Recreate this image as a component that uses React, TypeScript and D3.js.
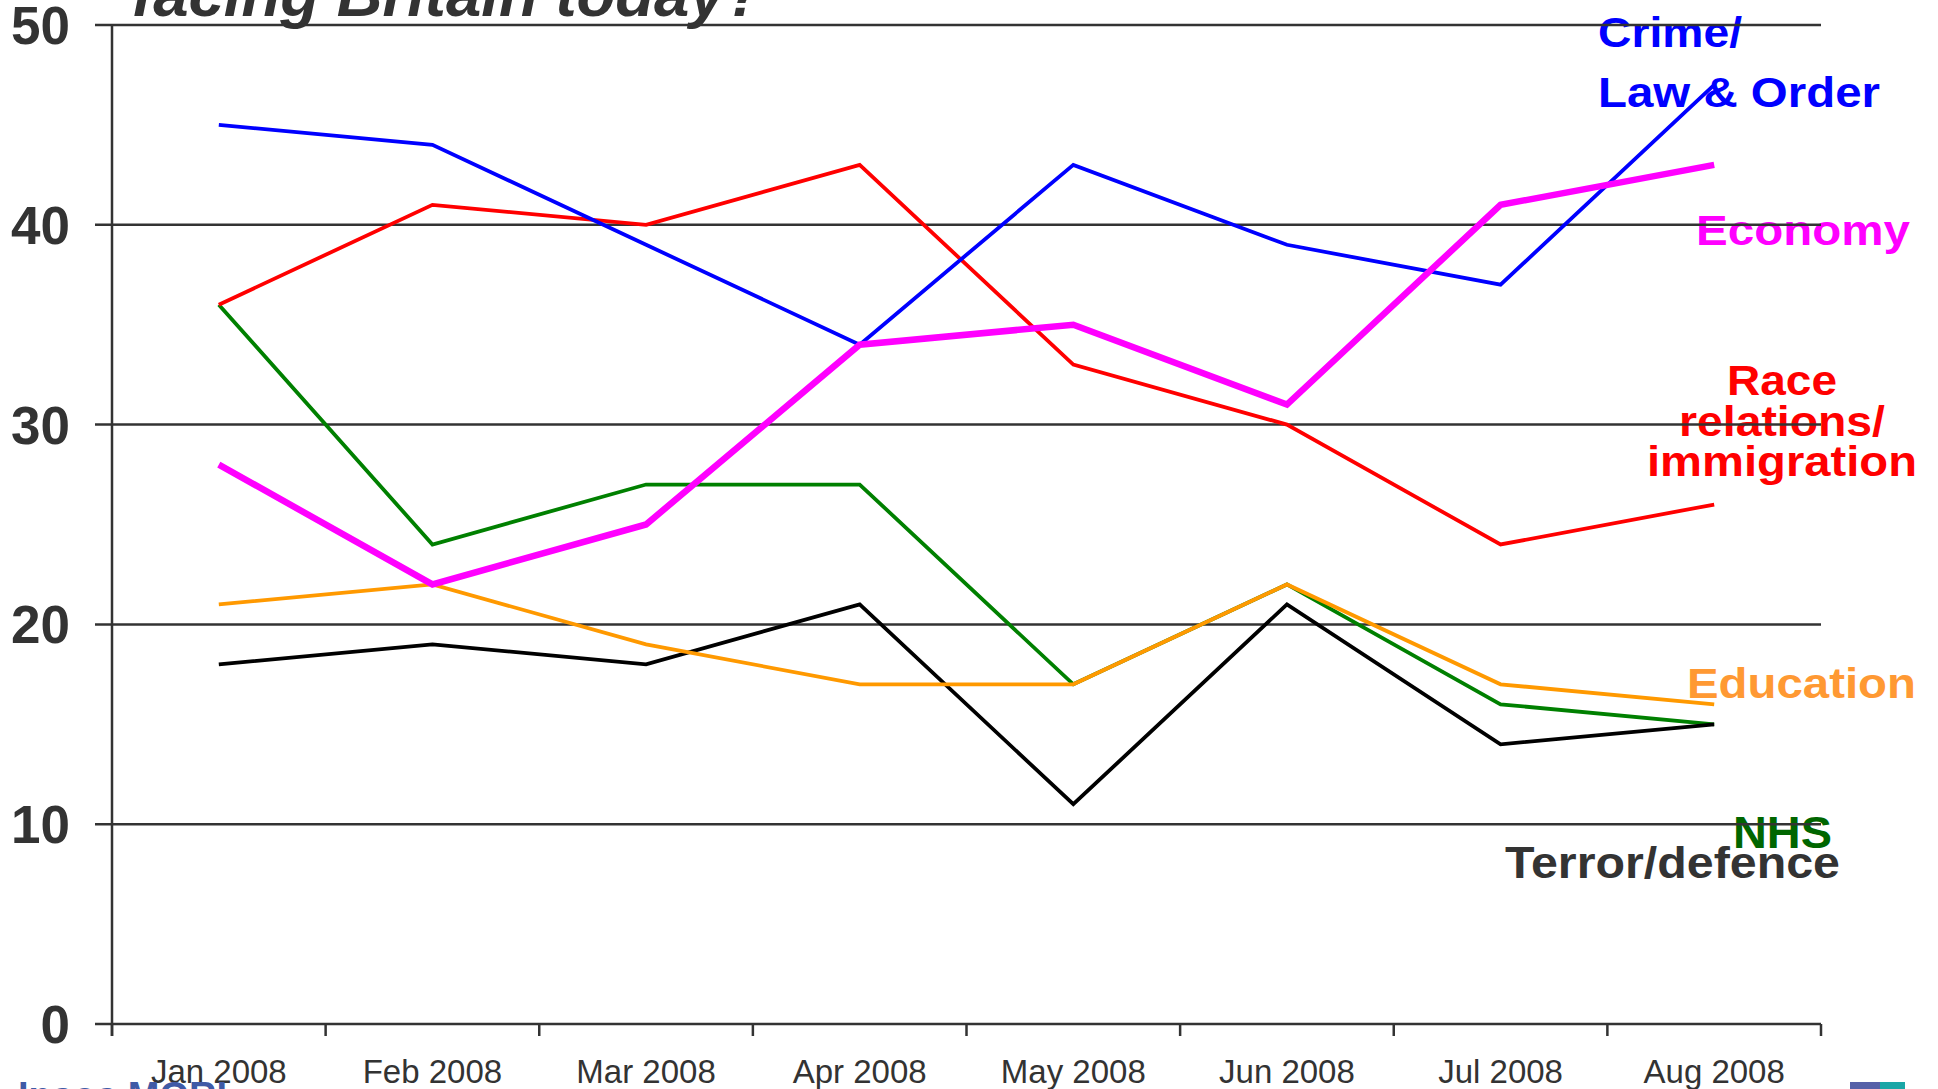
import React from "react";
import * as d3 from "d3";

const months = ["Jan 2008", "Feb 2008", "Mar 2008", "Apr 2008", "May 2008", "Jun 2008", "Jul 2008", "Aug 2008"];
const yTicks = [0, 10, 20, 30, 40, 50];

const crime = [45, 44, 39, 34, 43, 39, 37, 47];
const economy = [28, 22, 25, 34, 35, 31, 41, 43];
const race = [36, 41, 40, 43, 33, 30, 24, 26];
const nhs = [36, 24, 27, 27, 17, 22, 16, 15];
const education = [21, 22, 19, 17, 17, 22, 17, 16];
const terror = [18, 19, 18, 21, 11, 21, 14, 15];

const series = [
  { name: "NHS", values: nhs, color: "#008000", width: 3.8 },
  { name: "Terror/defence", values: terror, color: "#000000", width: 3.8 },
  { name: "Education", values: education, color: "#ff9900", width: 3.8 },
  { name: "Race", values: race, color: "#ff0000", width: 3.8 },
  { name: "Crime", values: crime, color: "#0000ff", width: 3.8 },
  { name: "Economy", values: economy, color: "#ff00ff", width: 6.5 },
];

type Lbl = { lines: string[]; color: string; x: number; y: number[]; size: number; anchor: "start" | "middle"; len: number[] };
const labels: Lbl[] = [
  { lines: ["Crime/", "Law & Order"], color: "#0000ff", x: 1598, y: [47, 107], size: 42, anchor: "start", len: [144, 282] },
  { lines: ["Economy"], color: "#ff00ff", x: 1696, y: [245], size: 42, anchor: "start", len: [214] },
  { lines: ["Race", "relations/", "immigration"], color: "#ff0000", x: 1782, y: [395, 436, 476], size: 42, anchor: "middle", len: [110, 206, 270] },
  { lines: ["Education"], color: "#ff9933", x: 1687, y: [698], size: 42, anchor: "start", len: [229] },
  { lines: ["NHS"], color: "#006600", x: 1733, y: [848], size: 45, anchor: "start", len: [99] },
  { lines: ["Terror/defence"], color: "#333333", x: 1505, y: [878], size: 45, anchor: "start", len: [335] },
];

export default function App() {
  const W = 1938, H = 1089;
  const left = 112, right = 1821, top = 25, bottom = 1024;
  const x = d3.scaleBand<string>().domain(months).range([left, right]).paddingInner(0).paddingOuter(0);
  const y = d3.scaleLinear().domain([0, 50]).range([bottom, top]);
  const line = d3
    .line<number>()
    .x((_, i) => (x(months[i]) as number) + x.bandwidth() / 2)
    .y((v) => y(v));
  const boundaries = months.map((m) => x(m) as number).concat([right]);
  const font = "'Liberation Sans', Arial, Helvetica, sans-serif";

  return (
    <svg width={W} height={H} style={{ position: "absolute", left: 0, top: 0, background: "#fff" }} fontFamily={font}>
      <rect width={W} height={H} fill="#fff" />
      {/* Title fragment */}
      <text x={132} y={16} fontSize={63.5} fontWeight="bold" fontStyle="italic" fill="#333">
        facing Britain today?
      </text>
      {/* Series labels */}
      {labels.map((l, i) =>
        l.lines.map((t, j) => (
          <text
            key={`${i}-${j}`}
            x={l.anchor === "middle" ? l.x - l.len[j] / 2 : l.x}
            y={l.y[j]}
            fontSize={l.size}
            fontWeight="bold"
            fill={l.color}
            textLength={l.len[j]}
            lengthAdjust="spacingAndGlyphs"
          >
            {t}
          </text>
        ))
      )}
      {/* Gridlines */}
      {yTicks.map((t) => (
        <line key={t} x1={95} x2={right} y1={y(t)} y2={y(t)} stroke="#333" strokeWidth={2.5} />
      ))}
      {/* Y axis */}
      <line x1={left} x2={left} y1={top} y2={bottom + 12} stroke="#333" strokeWidth={2.5} />
      {boundaries.map((b, i) => (
        <line key={i} x1={b} x2={b} y1={bottom} y2={bottom + 12} stroke="#333" strokeWidth={2.5} />
      ))}
      {yTicks.map((t) => (
        <text key={t} x={70} y={y(t) + 19} fontSize={53} fontWeight="bold" fill="#333" textAnchor="end">
          {t}
        </text>
      ))}
      {months.map((m) => (
        <text key={m} x={(x(m) as number) + x.bandwidth() / 2} y={1083} fontSize={33} fill="#333" textAnchor="middle">
          {m}
        </text>
      ))}
      {/* Data lines */}
      {series.map((s) => (
        <path key={s.name} d={line(s.values) || ""} fill="none" stroke={s.color} strokeWidth={s.width} strokeLinejoin="miter" />
      ))}
      {/* Logos (cropped) */}
      <text x={18} y={1109} fontSize={38} fontWeight="bold" fill="#3f5aa6">
        Ipsos MORI
      </text>
      <rect x={1850} y={1082} width={30} height={10} fill="#5560a8" />
      <rect x={1880} y={1082} width={25} height={10} fill="#1aa6a6" />
    </svg>
  );
}
